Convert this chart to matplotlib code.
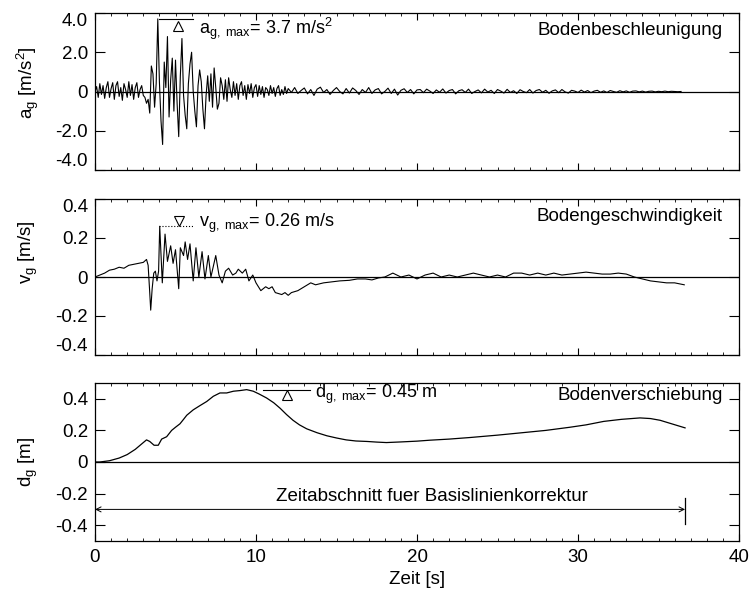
import numpy as np
import matplotlib
matplotlib.use("Agg")
import matplotlib.pyplot as plt

plt.rcParams['font.family'] = ['Liberation Sans', 'DejaVu Sans']
plt.rcParams['mathtext.fontset'] = 'custom'
plt.rcParams['mathtext.rm'] = 'Liberation Sans'
plt.rcParams['mathtext.it'] = 'Liberation Sans'

# ground acceleration [m/s^2]: 0.1 s steps up to 11.9 s, then 0.2 s steps to 36.4 s
acc_fine = [0.0, 0.25, -0.3, 0.4, -0.15, 0.3, -0.35, 0.2, 0.5, -0.3, 0.15, 0.45, -0.4, 0.3, 0.5, -0.25,
            0.2, -0.45, 0.4, 0.1, -0.3, 0.5, -0.2, 0.35, -0.4, 0.2, 0.45, -0.3, 0.1, 0.3, -0.2,
            -0.3, -0.6, -0.4, -1.1, 1.3, 0.9, -0.8, 0.4, 3.7, 0.5, -1.5, -2.7, 1.5, 0.2, 2.8, -1.3,
            0.6, 1.7, -1.0, 1.6, -0.6, -2.3, 0.8, 2.7, -0.2, -1.2, -1.9, 0.4, 1.4, 2.0, 0.0, -1.0,
            -1.8, 0.3, 1.1, 0.5, -0.9, -1.9, -0.2, 0.8, -0.5, 0.9, -0.8, 1.2, 0.2, -0.9, -0.6, 0.7,
            0.3, -0.4, 0.6, -0.5, 0.7, 0.1, -0.3, 0.5, -0.2, 0.4, -0.4, 0.3,
            0.5, -0.2, 0.3, -0.4, 0.35, -0.1, 0.4, -0.3, 0.2, 0.35, -0.25, 0.3, -0.15, 0.25, -0.3,
            0.2, 0.1, -0.2, 0.3, -0.1, 0.2, -0.25, 0.15, 0.3, -0.2, 0.1, -0.15, 0.25, -0.1]
acc_coarse = [0.15, -0.05, 0.2, -0.1, 0.05, 0.18, -0.12, 0.1, -0.2, 0.12, 0.22, -0.05, 0.1, -0.15,
              0.05, 0.2, 0.0, -0.12, 0.15, -0.08, 0.18, 0.05, -0.15, 0.1, -0.05, 0.2, -0.1, 0.08,
              0.15, -0.12, 0.0, 0.17, -0.1, 0.12, -0.18, 0.06, 0.14, -0.05, 0.1, -0.12, 0.08,
              0.1, -0.06, 0.12, 0.02, -0.1, 0.08, -0.04, 0.13, -0.08, 0.05, 0.1, -0.12, 0.04, 0.09,
              -0.05, 0.12, -0.1, 0.0, 0.08, -0.07, 0.12, -0.03, 0.06, -0.1, 0.1, 0.02, -0.08, 0.11,
              -0.05, 0.04, -0.1, 0.09, 0.0, -0.06, 0.1, -0.08, 0.05, 0.1, -0.04, 0.06, -0.09, 0.03,
              0.08, -0.06, 0.1, -0.02, -0.08, 0.06, 0.02, -0.05,
              0.07, -0.03, 0.05, -0.06, 0.02, 0.06, -0.04, 0.03, -0.05, 0.05, 0.0, -0.04, 0.04,
              -0.02, 0.03, -0.04, 0.02, 0.03, -0.02, 0.02, -0.03, 0.01, 0.02, -0.02, 0.01, -0.01,
              0.02, -0.01, 0.01, 0.0, -0.01, 0.0]
acc_t = np.concatenate([np.arange(len(acc_fine)) * 0.1,
                        12.0 + np.arange(len(acc_coarse)) * 0.2])
acc = np.array(acc_fine + acc_coarse)

# ground velocity [m/s]
vel_t = [0, 0.3, 0.6, 0.9, 1.2, 1.5, 1.8, 2.1, 2.4, 2.7, 3.0, 3.2, 3.3, 3.4, 3.46, 3.55, 3.65, 3.75,
         3.85, 3.95, 4.02, 4.18, 4.35, 4.5, 4.7, 4.85, 5.0, 5.2, 5.3, 5.5, 5.6, 5.75, 5.9, 6.1, 6.27,
         6.45, 6.65, 6.83, 7.04, 7.2, 7.5, 7.7, 7.9, 8.1, 8.3, 8.55, 8.75, 8.9, 9.15, 9.36, 9.56, 9.8,
         10.0, 10.3, 10.6, 10.8, 11.0, 11.2, 11.4, 11.6, 11.8, 12.0, 12.2, 12.6, 13.0, 13.4, 13.7,
         14.2, 14.7, 15.2, 15.8, 16.3, 16.8, 17.2, 17.6, 18.0, 18.5, 19.0, 19.5, 20.0, 20.5, 21.0,
         21.5, 22.0, 22.5, 23.0, 23.5, 24.0, 24.5, 25.0, 25.5, 26.0, 26.5, 27.0, 27.5, 28.0, 28.5,
         29.0, 29.5, 30.0, 30.5, 31.0, 31.5, 32.0, 32.5, 33.0, 33.5, 34.0, 34.5, 35.0, 35.5, 36.0, 36.6]
vel = [0, 0.01, 0.02, 0.035, 0.04, 0.05, 0.045, 0.06, 0.065, 0.07, 0.075, 0.09, 0.06, -0.08, -0.17,
       -0.06, 0.02, 0.03, -0.02, 0.03, 0.26, -0.03, 0.22, 0.08, 0.16, 0.07, 0.14, -0.06, 0.15, 0.11,
       0.18, 0.09, 0.17, -0.02, 0.15, 0.0, 0.13, -0.01, 0.11, 0.0, 0.11, 0.01, -0.03, 0.03, 0.045,
       0.01, 0.02, 0.04, 0.02, 0.04, -0.02, 0.01, -0.03, -0.07, -0.05, -0.06, -0.05, -0.08, -0.085,
       -0.09, -0.08, -0.094, -0.08, -0.07, -0.05, -0.03, -0.04, -0.03, -0.025, -0.02, -0.017, -0.01,
       -0.01, -0.015, -0.005, 0.0, 0.02, 0.0, 0.01, -0.01, 0.01, 0.02, 0.0, 0.01, 0.0, 0.01, 0.02,
       0.01, 0.0, 0.01, 0.0, 0.02, 0.02, 0.01, 0.02, 0.01, 0.02, 0.01, 0.015, 0.02, 0.025, 0.02,
       0.015, 0.015, 0.02, 0.015, 0.0, -0.01, -0.02, -0.025, -0.03, -0.03, -0.04]

# ground displacement [m]
disp_t = [0, 0.3, 0.9, 1.5, 2.0, 2.5, 3.0, 3.2, 3.4, 3.67, 3.93, 4.14, 4.45, 4.76, 5.0, 5.28, 5.5,
          5.7, 6.1, 6.52, 6.94, 7.35, 7.76, 8.18, 8.6, 9.0, 9.42, 9.83, 10.2, 10.66, 11.1, 11.5,
          11.9, 12.3, 12.7, 13.15, 13.8, 14.4, 15.0, 15.6, 16.2, 16.9, 17.5, 18.1, 19.0, 20.0, 20.8,
          22.0, 23.3, 25.0, 26.4, 28.0, 29.5, 30.5, 31.6, 32.7, 33.85, 34.5, 35.1, 36.65]
disp = [0, 0.0, 0.008, 0.025, 0.047, 0.08, 0.123, 0.14, 0.13, 0.106, 0.106, 0.145, 0.16, 0.2, 0.22,
        0.242, 0.27, 0.296, 0.33, 0.357, 0.383, 0.416, 0.437, 0.437, 0.448, 0.452, 0.458, 0.448,
        0.43, 0.405, 0.375, 0.34, 0.3, 0.264, 0.235, 0.21, 0.185, 0.166, 0.152, 0.14, 0.133, 0.13,
        0.126, 0.123, 0.127, 0.132, 0.138, 0.145, 0.155, 0.17, 0.184, 0.2, 0.22, 0.235, 0.257, 0.27,
        0.279, 0.275, 0.264, 0.216]

t_end = 36.65
ylims = [(-4, 4), (-0.4, 0.4), (-0.5, 0.5)]
yticks = [[-4, -2, 0, 2, 4], [-0.4, -0.2, 0, 0.2, 0.4], [-0.4, -0.2, 0, 0.2, 0.4]]
yticklabels = [['-4.0', '-2.0', '0', '2.0', '4.0'],
               ['-0.4', '-0.2', '0', '0.2', '0.4'],
               ['-0.4', '-0.2', '0', '0.2', '0.4']]
ylabels = [r'a$_{\rm g}$ [m/s$^{\rm 2}$]', r'v$_{\rm g}$ [m/s]', r'd$_{\rm g}$ [m]']
titles = ['Bodenbeschleunigung', 'Bodengeschwindigkeit', 'Bodenverschiebung']
title_y = [0.89, 0.885, 0.92]
label_y = [0.56, 0.66, 0.5]

fig = plt.figure(figsize=(7.55, 5.94), dpi=100)
W, H = 755, 594
boxes = [(13, 170), (199, 355), (383, 541)]
axes = []
for top, bot in boxes:
    axes.append(fig.add_axes([95 / W, 1 - bot / H, 644 / W, (bot - top) / H]))

fs = 13.5
for i, ax in enumerate(axes):
    ax.set_xlim(0, 40)
    ax.set_ylim(*ylims[i])
    ax.set_yticks(yticks[i])
    ax.set_yticklabels(yticklabels[i])
    ax.set_xticks([0, 10, 20, 30, 40])
    ax.set_xticks(np.arange(0, 41, 1), minor=True)
    ax.tick_params(axis='x', which='major', direction='in', top=True, length=5, width=0.8)
    ax.tick_params(axis='x', which='minor', direction='in', top=True, length=2.5, width=0.6)
    ax.tick_params(axis='y', which='major', direction='in', right=True, length=7, width=0.8,
                   labelsize=fs, pad=5)
    ax.tick_params(axis='x', labelsize=fs, pad=6)
    if i < 2:
        ax.tick_params(axis='x', labelbottom=False)
        # end labels pulled inside the axis range
        labs = ax.get_yticklabels()
        labs[0].set_verticalalignment('bottom')
        labs[-1].set_verticalalignment('top')
    for s in ax.spines.values():
        s.set_linewidth(0.9)
    ax.axhline(0, color='black', lw=0.9)
    ax.set_ylabel(ylabels[i], fontsize=fs, va='center')
    ax.yaxis.set_label_coords(-0.104, label_y[i])
    ax.text(0.975, title_y[i], titles[i], transform=ax.transAxes, ha='right', va='center',
            fontsize=fs)

ax1, ax2, ax3 = axes
ax1.plot(acc_t, acc, color='black', lw=0.8)
ax2.plot(vel_t, vel, color='black', lw=0.8)
ax3.plot(disp_t, disp, color='black', lw=0.9)

# peak markers
ax1.plot([4.0, 6.1], [3.7, 3.7], color='black', lw=0.8)
ax1.plot([5.15], [3.35], marker='^', ms=7, mfc='white', mec='black', mew=0.8)
ax1.text(6.45, 3.2, r'a$_{\rm g,\ max}$= 3.7 m/s$^{\rm 2}$', fontsize=fs - 0.5, va='center')

ax2.plot([4.0, 6.1], [0.26, 0.26], color='black', lw=0.8, ls=':')
ax2.plot([5.2], [0.285], marker='v', ms=7, mfc='white', mec='black', mew=0.8)
ax2.text(6.45, 0.275, r'v$_{\rm g,\ max}$= 0.26 m/s', fontsize=fs - 0.5, va='center')

ax3.plot([10.45, 13.35], [0.458, 0.458], color='black', lw=0.8)
ax3.plot([11.9], [0.425], marker='^', ms=7, mfc='white', mec='black', mew=0.8)
ax3.text(13.65, 0.425, r'd$_{\rm g,\ max}$= 0.45 m', fontsize=fs - 0.5, va='center')

# baseline correction interval
ax3.annotate('', xy=(0, -0.3), xytext=(t_end, -0.3),
             arrowprops=dict(arrowstyle='<->', color='black', lw=0.7,
                             mutation_scale=9, shrinkA=0, shrinkB=0))
ax3.plot([t_end, t_end], [-0.23, -0.39], color='black', lw=0.9)
ax3.text(20.9, -0.27, 'Zeitabschnitt fuer Basislinienkorrektur', ha='center', va='bottom',
         fontsize=fs)

ax3.set_xlabel('Zeit [s]', fontsize=fs, labelpad=3)

fig.savefig('out.png', dpi=100)
